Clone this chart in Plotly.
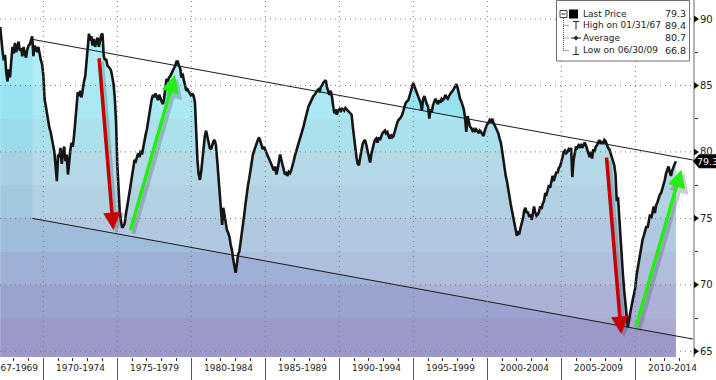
import pandas as pd
import plotly.graph_objects as go

# ---------------- data (monthly) ----------------
cu_1967 = [89.4, 88.3, 87.6, 86.9, 87.3, 86.0, 85.3, 86.2, 85.6, 86.8, 87.9, 87.4]
cu_1968 = [88.2, 87.5, 87.9, 88.3, 87.6, 87.8, 87.2, 87.9, 87.4, 87.1, 87.7, 88.0]
cu_1969 = [88.1, 88.4, 88.7, 87.2, 88.0, 87.8, 87.5, 87.9, 87.3, 86.9, 86.6, 85.8]
cu_1970 = [84.0, 83.4, 82.9, 82.2, 81.8, 81.5, 81.0, 80.6, 80.0, 78.9, 77.8, 79.8]
cu_1971 = [79.6, 80.3, 79.1, 79.9, 80.4, 79.3, 79.8, 78.3, 79.5, 80.2, 80.7, 80.4]
cu_1972 = [81.3, 82.5, 83.9, 84.5, 84.2, 84.6, 84.1, 84.8, 85.3, 85.7, 86.6, 87.7]
cu_1973 = [88.9, 88.4, 88.7, 88.0, 88.5, 87.9, 88.3, 88.6, 87.9, 88.4, 88.8, 88.9]
cu_1974 = [87.2, 86.9, 87.0, 86.5, 86.4, 86.3, 86.1, 85.6, 85.1, 84.0, 82.3, 79.1]
cu_1975 = [76.9, 75.6, 74.8, 74.3, 74.4, 74.6, 75.3, 76.0, 76.4, 77.0, 77.6, 78.2]
cu_1976 = [79.0, 79.4, 79.3, 79.7, 79.9, 79.6, 80.1, 79.8, 80.4, 80.9, 81.3, 81.7]
cu_1977 = [82.3, 83.0, 83.6, 84.0, 84.3, 84.1, 84.4, 84.2, 83.9, 84.3, 84.0, 83.8]
cu_1978 = [83.6, 84.0, 84.8, 85.5, 85.3, 85.6, 85.7, 85.9, 86.1, 86.2, 86.5, 86.8]
cu_1979 = [86.8, 86.5, 86.3, 85.6, 85.9, 85.4, 85.0, 84.6, 84.7, 84.5, 84.3, 84.2]
cu_1980 = [84.4, 84.2, 83.7, 81.4, 79.4, 78.3, 77.9, 78.5, 79.5, 80.6, 81.2, 81.6]
cu_1981 = [81.2, 80.6, 80.3, 80.2, 80.5, 80.8, 80.9, 80.5, 79.4, 78.3, 77.0, 75.8]
cu_1982 = [74.5, 75.8, 75.2, 74.4, 74.1, 73.9, 73.6, 73.0, 72.6, 71.9, 71.3, 70.9]
cu_1983 = [71.6, 72.3, 72.5, 73.1, 73.8, 74.5, 75.3, 76.1, 77.0, 77.5, 78.0, 78.6]
cu_1984 = [79.4, 79.8, 80.1, 80.4, 80.6, 80.9, 81.1, 80.8, 80.5, 80.2, 80.4, 80.1]
cu_1985 = [79.9, 79.7, 79.5, 79.3, 79.0, 78.8, 78.6, 78.9, 78.3, 78.7, 79.3, 79.8]
cu_1986 = [79.4, 79.0, 78.5, 78.3, 78.4, 78.2, 78.5, 78.4, 78.6, 78.9, 79.3, 79.7]
cu_1987 = [80.0, 80.4, 80.6, 80.9, 81.2, 81.5, 81.9, 82.3, 82.7, 83.2, 83.4, 83.6]
cu_1988 = [83.8, 84.1, 84.2, 84.3, 84.5, 84.6, 84.7, 84.5, 84.9, 85.0, 85.2, 85.3]
cu_1989 = [85.4, 84.9, 84.6, 84.3, 84.6, 84.2, 83.5, 82.9, 83.2, 82.8, 83.1, 83.2]
cu_1990 = [83.0, 83.3, 83.2, 83.1, 83.3, 83.2, 83.1, 83.0, 82.9, 82.8, 81.9, 81.0]
cu_1991 = [80.3, 79.6, 79.1, 79.0, 79.6, 80.2, 80.6, 80.8, 80.9, 80.5, 80.0, 79.6]
cu_1992 = [79.2, 79.8, 80.3, 80.6, 80.9, 81.0, 80.7, 81.1, 80.9, 81.2, 81.4, 81.5]
cu_1993 = [81.6, 81.4, 81.5, 81.2, 81.0, 81.3, 81.1, 81.2, 81.6, 81.9, 82.2, 82.4]
cu_1994 = [82.5, 82.6, 82.8, 83.1, 83.4, 83.7, 83.8, 83.9, 84.2, 84.5, 84.8, 85.2]
cu_1995 = [84.9, 84.7, 84.4, 84.2, 83.9, 83.7, 83.1, 84.0, 84.2, 83.8, 83.6, 83.4]
cu_1996 = [82.5, 83.2, 83.0, 83.5, 83.7, 84.0, 83.8, 83.6, 83.9, 83.7, 84.0, 83.9]
cu_1997 = [84.0, 84.3, 84.1, 84.0, 84.2, 84.4, 84.5, 84.6, 84.8, 85.0, 85.1, 84.8]
cu_1998 = [84.3, 84.0, 83.8, 83.5, 83.2, 82.6, 81.5, 82.7, 82.3, 81.9, 81.8, 81.6]
cu_1999 = [81.7, 81.5, 81.7, 81.6, 81.4, 81.6, 81.5, 81.3, 81.2, 81.6, 81.9, 82.1]
cu_2000 = [82.2, 82.4, 82.3, 82.5, 82.2, 82.0, 81.8, 81.5, 81.4, 81.0, 80.7, 80.1]
cu_2001 = [79.3, 78.7, 78.2, 77.8, 77.1, 76.5, 76.1, 75.6, 75.1, 74.5, 74.0, 73.7]
cu_2002 = [73.9, 73.8, 74.3, 74.6, 75.0, 75.6, 75.8, 75.4, 75.5, 75.1, 75.3, 74.9]
cu_2003 = [75.6, 75.9, 75.4, 75.2, 75.3, 75.5, 75.9, 75.7, 76.1, 76.3, 76.9, 76.8]
cu_2004 = [77.1, 77.5, 77.3, 77.7, 78.2, 77.8, 78.3, 78.5, 78.4, 78.8, 78.9, 79.2]
cu_2005 = [79.6, 80.0, 80.1, 79.9, 80.0, 80.2, 80.1, 80.3, 78.1, 79.4, 80.0, 80.4]
cu_2006 = [80.3, 80.5, 80.4, 80.6, 80.3, 80.5, 80.7, 80.5, 80.2, 79.8, 79.6, 80.0]
cu_2007 = [79.5, 80.2, 80.0, 80.4, 80.5, 80.7, 80.9, 80.6, 80.8, 80.6, 80.9, 80.8]
cu_2008 = [80.5, 80.3, 80.2, 79.9, 79.6, 79.4, 79.0, 78.3, 76.3, 76.6, 75.0, 73.6]
cu_2009 = [72.0, 70.8, 69.6, 68.6, 67.6, 66.8, 67.4, 68.0, 68.5, 68.9, 69.3, 69.8]
cu_2010 = [70.7, 71.2, 71.9, 72.4, 73.0, 73.4, 73.7, 74.0, 74.4, 74.3, 74.8, 75.3]
cu_2011 = [75.0, 75.6, 75.9, 75.4, 76.0, 76.2, 76.5, 76.8, 76.9, 77.2, 77.5, 77.9]
cu_2012 = [78.4, 78.7, 78.9, 78.5, 78.2, 78.6, 78.9, 79.1, 79.3]
series_start = "1967-01-31"

# channel (trend) lines
trend_x = ["1969-04-04", "2013-11-24"]
trend_upper = [88.47, 79.39]
trend_lower = [75.0, 65.92]

# arrows: tail -> tip
arrow_tail_x = ["1973-10-05", "1975-11-10", "2008-01-19", "2010-01-04"]
arrow_tail_y = [87.16, 74.0, 79.69, 66.7]
arrow_tip_x = ["1974-09-24", "1978-11-24", "2009-01-19", "2013-02-10"]
arrow_tip_y = [74.12, 85.79, 66.3, 78.66]
arrow_colors = ["#c40000", "#22ee11", "#c40000", "#22ee11"]

# axes
y_ticks = [65, 70, 75, 80, 85, 90]
period_starts = [1967, 1970, 1975, 1980, 1985, 1990, 1995, 2000, 2005, 2010]
period_labels = ["1967-1969", "1970-1974", "1975-1979", "1980-1984", "1985-1989",
                 "1990-1994", "1995-1999", "2000-2004", "2005-2009", "2010-2014"]

# legend box text
legend_labels = ["Last Price", "High on 01/31/67", "Average", "Low on 06/30/09"]
legend_values = ["79.3", "89.4", "80.7", "66.8"]

# ---------------- build ----------------
years = list(range(1967, 2013))
values = []
for yr in years:
    values += globals()[f"cu_{yr}"]
dates = pd.date_range(series_start, periods=len(values), freq="ME")

W, H = 716, 380
ML, MR, MT, MB = 0, 23, 0, 23
PW, PH = W - ML - MR, H - MT - MB
Y_RANGE = [64.57, 91.43]
X_RANGE = ["1967-01-27", "2013-11-25"]
FONT = "DejaVu Sans"


def px_x(px):
    return px / PW


def px_y(py):
    return 1 - py / PH


def yfrac(v):
    return (v - Y_RANGE[0]) / (Y_RANGE[1] - Y_RANGE[0])


# stepped vertical gradient: bands every 2.5 units (bottom -> top)
band_edges = [Y_RANGE[0], 67.5, 70, 72.5, 75, 77.5, 80, 82.5, 85, 87.5, Y_RANGE[1]]
band_colors = ["#9c98c7", "#9aa2cf", "#9eb0d6", "#9fbddb", "#a2c8df", "#a5d1e2",
               "#99dbea", "#98e3f1", "#9fe8f4", "#a8edf7"]
cscale = []
for i, c in enumerate(band_colors):
    cscale.append([yfrac(band_edges[i]), c])
    cscale.append([yfrac(band_edges[i + 1]), c])
cscale[0][0] = 0.0
cscale[-1][0] = 1.0

fig = go.Figure()

fig.add_trace(go.Scatter(
    x=dates, y=values, mode="lines", line=dict(width=0, color="rgba(0,0,0,0)"),
    fill="tozeroy",
    fillgradient=dict(type="vertical", colorscale=cscale, start=Y_RANGE[0], stop=Y_RANGE[1]),
    hoverinfo="skip", showlegend=False))

# channel overlay
fig.add_trace(go.Scatter(
    x=[trend_x[0], trend_x[1], trend_x[1], trend_x[0], trend_x[0]],
    y=[trend_upper[0], trend_upper[1], trend_lower[1], trend_lower[0], trend_upper[0]],
    mode="lines", line=dict(width=0), fill="toself",
    fillcolor="rgba(255,255,255,0.18)", hoverinfo="skip", showlegend=False))

for ty in (trend_upper, trend_lower):
    fig.add_trace(go.Scatter(x=trend_x, y=ty, mode="lines",
                             line=dict(color="#1a1a1a", width=1),
                             hoverinfo="skip", showlegend=False))

fig.add_trace(go.Scatter(x=dates, y=values, mode="lines",
                         line=dict(color="#151515", width=2.6),
                         showlegend=False))

shapes = []
# dotted grid on top
for v in y_ticks:
    shapes.append(dict(type="line", xref="paper", yref="y", x0=0, x1=1, y0=v, y1=v,
                       line=dict(color="#7a7a7a", width=1, dash="1px,4px"), layer="above"))
for s in period_starts[1:]:
    shapes.append(dict(type="line", xref="x", yref="paper", x0=f"{s}-01-01", x1=f"{s}-01-01",
                       y0=0, y1=1, line=dict(color="#7a7a7a", width=1, dash="1px,4px"),
                       layer="above"))

annotations = []

# arrows with soft shadows
for tx, ty, hx, hy, col in zip(arrow_tail_x, arrow_tail_y, arrow_tip_x, arrow_tip_y, arrow_colors):
    off_x = pd.Timedelta(days=75)
    off_y = -0.25
    annotations.append(dict(
        x=pd.Timestamp(hx) + off_x, y=hy + off_y,
        ax=pd.Timestamp(tx) + off_x, ay=ty + off_y,
        xref="x", yref="y", axref="x", ayref="y", text="", showarrow=True,
        arrowhead=2, arrowsize=1.0, arrowwidth=4, arrowcolor="rgba(60,60,60,0.25)"))
    annotations.append(dict(
        x=hx, y=hy, ax=tx, ay=ty, xref="x", yref="y", axref="x", ayref="y",
        text="", showarrow=True, arrowhead=2, arrowsize=1.0, arrowwidth=3.5,
        arrowcolor=col))

# x period labels
for s, lab in zip(period_starts, period_labels):
    if s == period_starts[0]:
        center = pd.Timestamp(f"{s + 1}-01-01")
    else:
        center = pd.Timestamp(f"{s + 2}-07-02")
    annotations.append(dict(x=center, y=px_y(368), xref="x", yref="paper",
                            text=lab, showarrow=False, xanchor="center", yanchor="middle",
                            font=dict(family=FONT, size=9, color="#222")))

# y tick labels with triangle markers
for v in y_ticks:
    yf = yfrac(v)
    dy = 3.5 / PH
    shapes.append(dict(type="path", xref="paper", yref="paper",
                       path=f"M {px_x(PW + 1)} {yf - dy} L {px_x(PW + 6)} {yf} L {px_x(PW + 1)} {yf + dy} Z",
                       fillcolor="#111", line=dict(width=0), layer="above"))
    annotations.append(dict(x=px_x(PW + 5), y=yf, xref="paper", yref="paper", text=str(v),
                            showarrow=False, xanchor="left", yanchor="middle",
                            font=dict(family=FONT, size=10, color="#222")))

# legend box
LFS = 9
shapes.append(dict(type="rect", xref="paper", yref="paper",
                   x0=px_x(556.5), x1=px_x(689.5), y0=px_y(61), y1=px_y(0.5),
                   line=dict(color="#707070", width=1), fillcolor="white", layer="above"))
rows_y = [14, 25.5, 38, 50.5]
shapes.append(dict(type="line", xref="paper", yref="paper", x0=px_x(563.5), x1=px_x(563.5),
                   y0=px_y(18), y1=px_y(50.5), line=dict(color="#555", width=1, dash="1px,1px"),
                   layer="above"))
for ry in rows_y[1:]:
    shapes.append(dict(type="line", xref="paper", yref="paper", x0=px_x(563.5), x1=px_x(569),
                       y0=px_y(ry), y1=px_y(ry), line=dict(color="#555", width=1, dash="1px,1px"),
                       layer="above"))
shapes.append(dict(type="rect", xref="paper", yref="paper", x0=px_x(560), x1=px_x(567),
                   y0=px_y(17.5), y1=px_y(10.5), line=dict(color="#444", width=1),
                   fillcolor="white", layer="above"))
shapes.append(dict(type="line", xref="paper", yref="paper", x0=px_x(561.5), x1=px_x(565.5),
                   y0=px_y(14), y1=px_y(14), line=dict(color="#222", width=1), layer="above"))
shapes.append(dict(type="rect", xref="paper", yref="paper", x0=px_x(569), x1=px_x(578),
                   y0=px_y(18.5), y1=px_y(9.5), line=dict(color="black", width=0),
                   fillcolor="black", layer="above"))
# icons: high (T), average (-+-), low (inverted T)
ic_x = 576
r = rows_y[1]
shapes.append(dict(type="line", xref="paper", yref="paper", x0=px_x(ic_x - 3), x1=px_x(ic_x + 3),
                   y0=px_y(r - 4), y1=px_y(r - 4), line=dict(color="#222", width=1), layer="above"))
shapes.append(dict(type="line", xref="paper", yref="paper", x0=px_x(ic_x), x1=px_x(ic_x),
                   y0=px_y(r - 4), y1=px_y(r + 4), line=dict(color="#222", width=1), layer="above"))
r = rows_y[2]
shapes.append(dict(type="line", xref="paper", yref="paper", x0=px_x(ic_x - 5), x1=px_x(ic_x + 5),
                   y0=px_y(r), y1=px_y(r), line=dict(color="#222", width=1), layer="above"))
shapes.append(dict(type="path", xref="paper", yref="paper",
                   path=f"M {px_x(ic_x - 2.5)} {px_y(r)} L {px_x(ic_x)} {px_y(r - 2.5)} L {px_x(ic_x + 2.5)} {px_y(r)} L {px_x(ic_x)} {px_y(r + 2.5)} Z",
                   fillcolor="#222", line=dict(width=0), layer="above"))
r = rows_y[3]
shapes.append(dict(type="line", xref="paper", yref="paper", x0=px_x(ic_x - 3), x1=px_x(ic_x + 3),
                   y0=px_y(r + 4), y1=px_y(r + 4), line=dict(color="#222", width=1), layer="above"))
shapes.append(dict(type="line", xref="paper", yref="paper", x0=px_x(ic_x), x1=px_x(ic_x),
                   y0=px_y(r - 4), y1=px_y(r + 4), line=dict(color="#222", width=1), layer="above"))
for ry, lab, val in zip(rows_y, legend_labels, legend_values):
    annotations.append(dict(x=px_x(580.5), y=px_y(ry), xref="paper", yref="paper", text=lab,
                            showarrow=False, xanchor="left", yanchor="middle",
                            font=dict(family=FONT, size=LFS, color="#222")))
    annotations.append(dict(x=px_x(688), y=px_y(ry), xref="paper", yref="paper", text=val,
                            showarrow=False, xanchor="right", yanchor="middle",
                            font=dict(family=FONT, size=LFS + 0.5, color="#222")))

# last price tag
last_val = values[-1]
yl = yfrac(last_val)
hh = 7 / PH
shapes.append(dict(type="path", xref="paper", yref="paper",
                   path=(f"M {px_x(PW)} {yl} L {px_x(PW + 6)} {yl + hh} L {px_x(PW + 30)} {yl + hh} "
                         f"L {px_x(PW + 30)} {yl - hh} L {px_x(PW + 6)} {yl - hh} Z"),
                   fillcolor="black", line=dict(width=0), layer="above"))
annotations.append(dict(x=px_x(PW + 2), y=yl, xref="paper", yref="paper",
                        text=f"{last_val:.1f}", showarrow=False, xanchor="left",
                        yanchor="middle", font=dict(family=FONT, size=9.5, color="white")))

fig.update_layout(
    width=W, height=H, margin=dict(l=ML, r=MR, t=MT, b=MB, autoexpand=False),
    paper_bgcolor="white", plot_bgcolor="white", showlegend=False,
    shapes=shapes, annotations=annotations,
    xaxis=dict(type="date", range=X_RANGE, showgrid=False, zeroline=False,
               showticklabels=False, tickmode="array",
               tickvals=[f"{s}-01-01" for s in period_starts[1:]],
               ticks="outside", ticklen=23, tickcolor="#555", tickwidth=1,
               minor=dict(ticks="outside", ticklen=3, tickcolor="#333", tickwidth=1,
                          dtick="M12", tick0="1970-01-01", showgrid=False)),
    yaxis=dict(side="right", range=Y_RANGE, showgrid=False, zeroline=False,
               tickmode="array", tickvals=y_ticks, showticklabels=False,
               ticks="", showline=True, linecolor="#b4b4b4", linewidth=2,
               minor=dict(ticks="outside", ticklen=3, tickcolor="#222", tickwidth=1,
                          tickmode="array",
                          tickvals=[v + 2.5 for v in y_ticks[:-1]], showgrid=False)),
)

fig.write_html("out.html", config={"displayModeBar": False},
               post_script="document.body.style.margin='0';document.body.style.overflow='hidden';")
